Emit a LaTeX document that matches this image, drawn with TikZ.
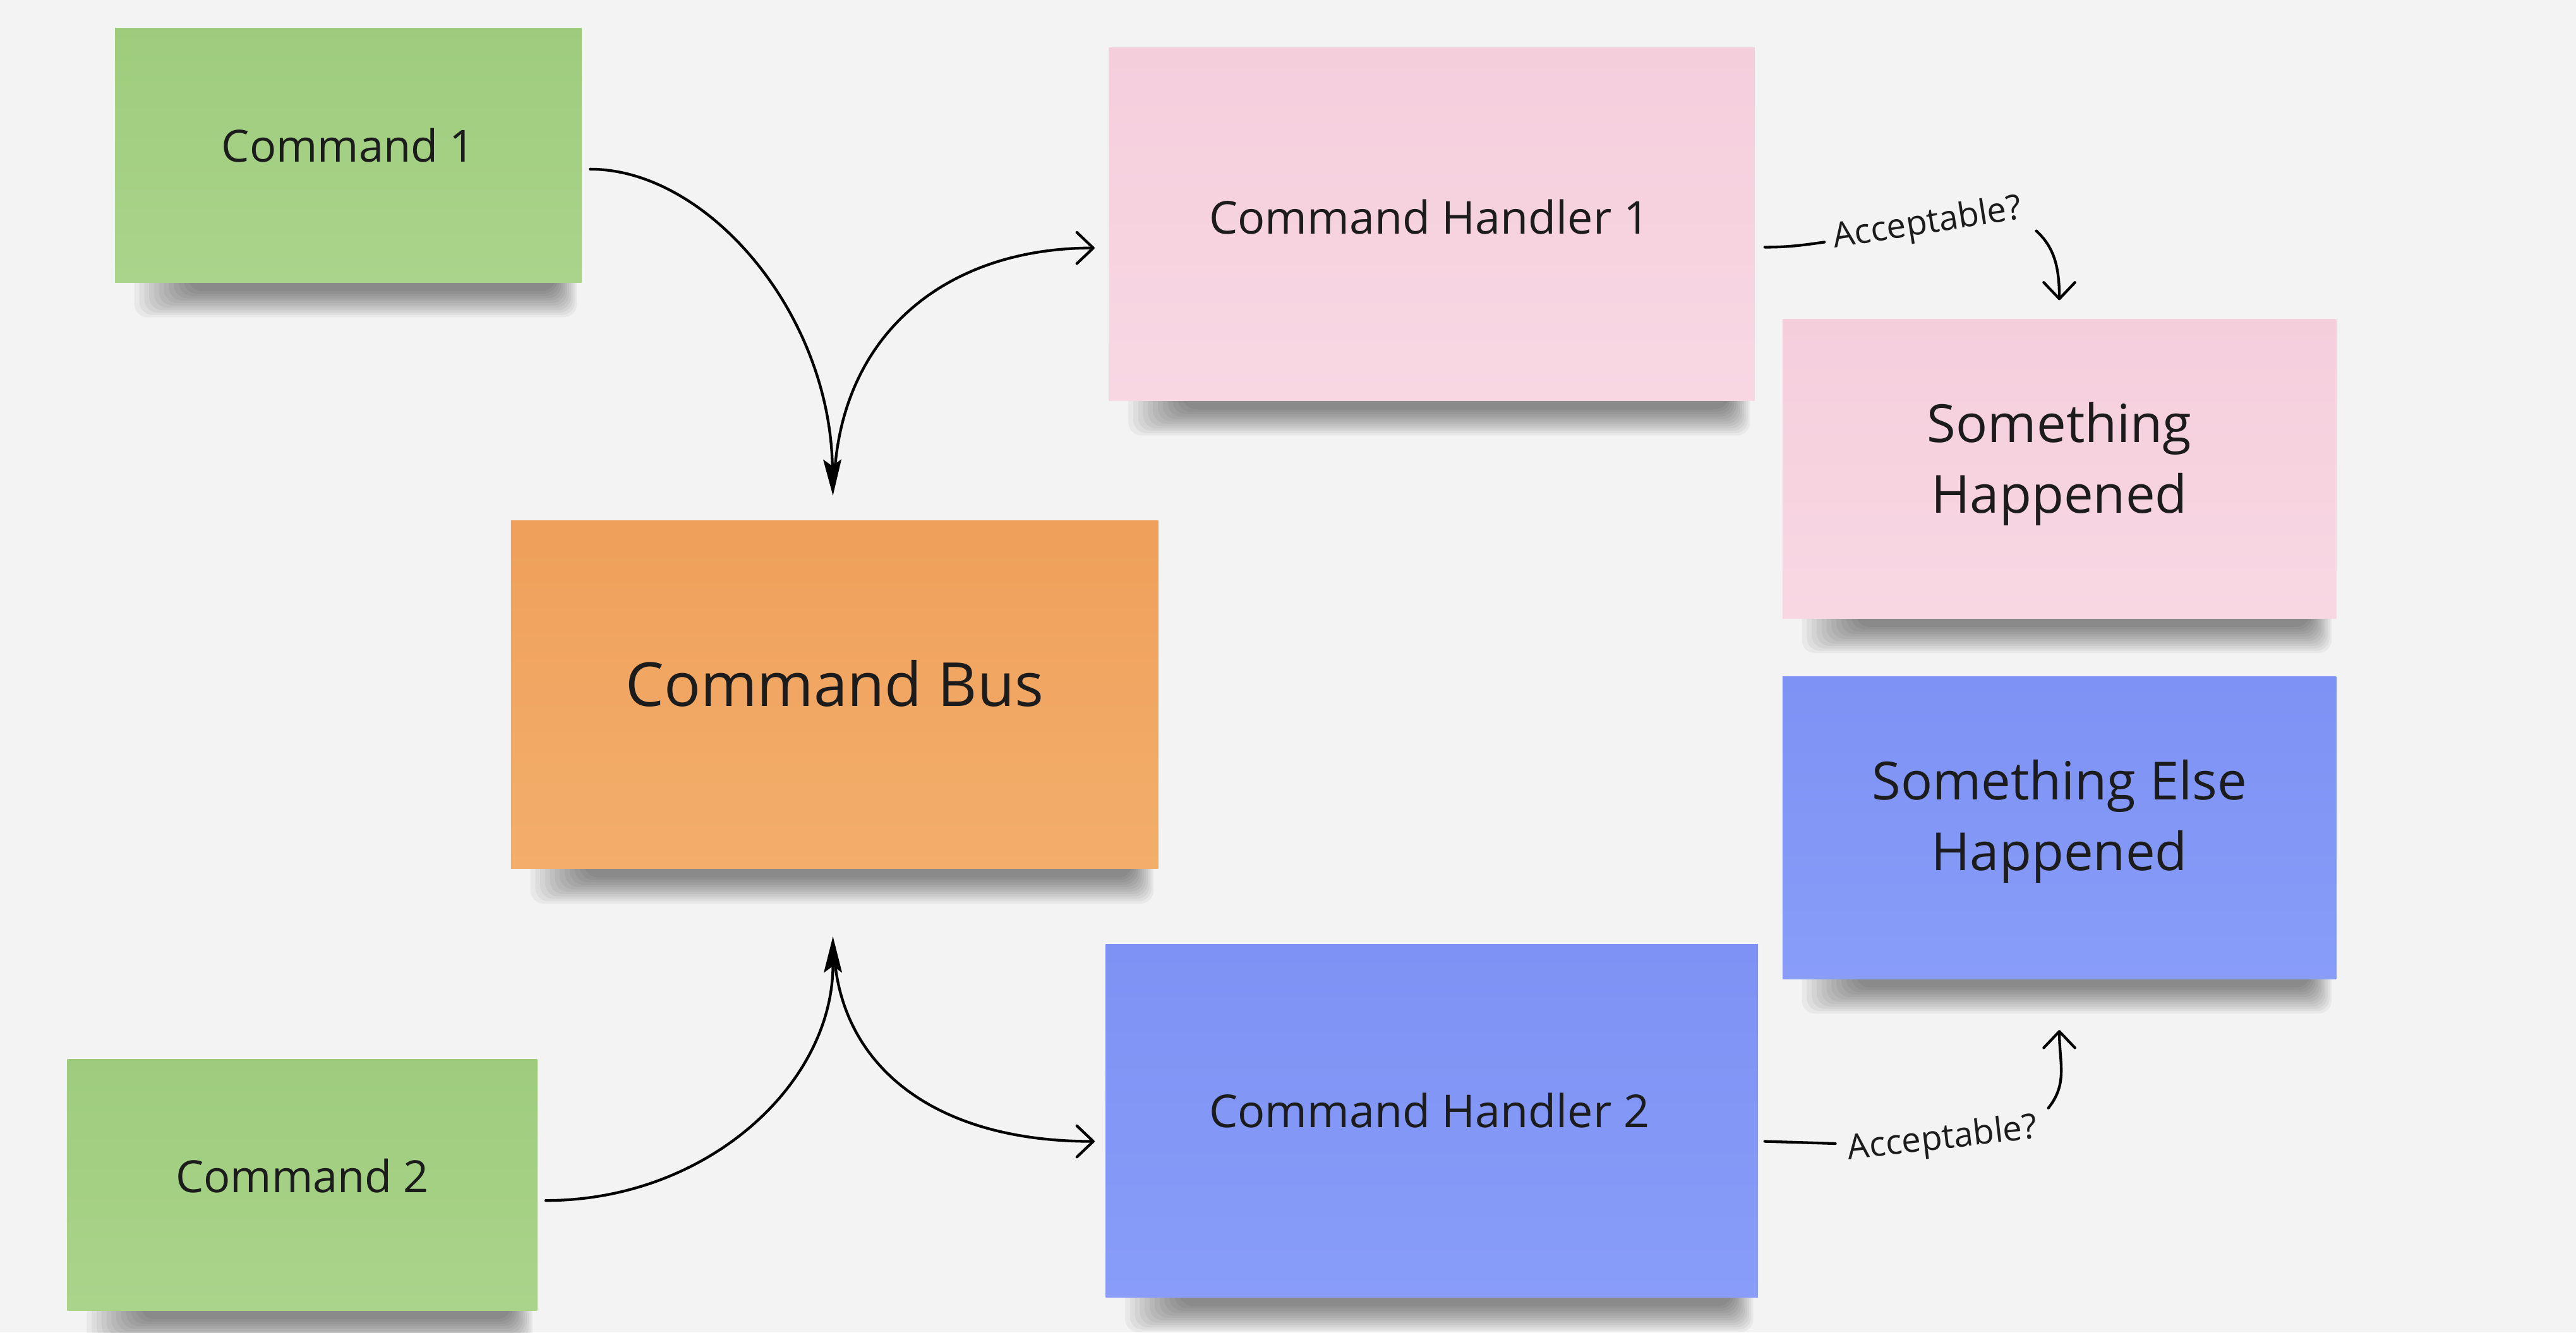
\documentclass[tikz,border=0pt]{standalone}
\usepackage{fontspec}
\setmainfont{Open Sans}
\usetikzlibrary{arrows.meta,calc}
\definecolor{bgc}{HTML}{F3F3F3}
\definecolor{ink}{HTML}{1C1C1C}
\definecolor{greenT}{HTML}{9ECC7C}
\definecolor{greenB}{HTML}{AAD48B}
\definecolor{orangeT}{HTML}{EFA05A}
\definecolor{orangeB}{HTML}{F3AE6C}
\definecolor{pinkT}{HTML}{F5CEDC}
\definecolor{pinkB}{HTML}{F8D7E3}
\definecolor{blueT}{HTML}{7D92F4}
\definecolor{blueB}{HTML}{889CF8}
\pgfdeclarelayer{back}
\pgfdeclarelayer{shade}
\pgfsetlayers{back,shade,main}
\newcommand\noteshadow[1]{%
  \foreach \k in {0,...,11}{%
    \fill[black,opacity=0.042,rounded corners=8pt]
      ($(#1.south west)+(12+3*\k,-10)$) rectangle ($(#1.south east)+(-3-1.2*\k,21-1.45*\k)$);
  }%
}
\begin{document}
\begin{tikzpicture}[x=1pt,y=-1pt,
  note/.style={rectangle,inner sep=0pt,draw=none},
  greennote/.style={note,top color=greenT,bottom color=greenB},
  orangenote/.style={note,top color=orangeT,bottom color=orangeB},
  pinknote/.style={note,top color=pinkT,bottom color=pinkB},
  bluenote/.style={note,top color=blueT,bottom color=blueB},
  ntext/.style={text=ink,align=center,inner sep=0pt},
  smalltext/.style={ntext,font=\fontsize{27}{32}\selectfont},
  handtext/.style={ntext,font=\fontsize{27.6}{32}\selectfont},
  bigtext/.style={ntext,font=\fontsize{37}{44}\selectfont},
  evtext/.style={ntext,font=\fontsize{32}{43}\selectfont},
  acctext/.style={text=ink,inner sep=2pt,font=\fontsize{21}{24}\selectfont,anchor=base},
  conn/.style={line width=1.65pt,draw=black,line cap=round},
  opentip/.style={-{Straight Barb[length=10pt,width=19pt,line cap=round,line join=round]}},
  solidtip/.style={-{Stealth[length=22pt,width=11pt,inset=4pt]}},
]
\useasboundingbox (0,0) rectangle (1568,811.3);
\begin{pgfonlayer}{back}
\fill[bgc] (0,0) rectangle (1568,811.3);
\end{pgfonlayer}

% notes
\node[greennote,minimum width=284pt,minimum height=155pt] (cmd1) at (212,94.5) {};
\node[greennote,minimum width=286pt,minimum height=153pt] (cmd2) at (184,721.5) {};
\node[orangenote,minimum width=394pt,minimum height=212pt] (bus) at (508,423) {};
\node[pinknote,minimum width=393pt,minimum height=215pt] (h1) at (871.5,136.5) {};
\node[bluenote,minimum width=397pt,minimum height=215pt] (h2) at (871.5,682.5) {};
\node[pinknote,minimum width=337pt,minimum height=182pt] (sh) at (1253.5,285.5) {};
\node[bluenote,minimum width=337pt,minimum height=184pt] (seh) at (1253.5,504) {};

\begin{pgfonlayer}{shade}
\noteshadow{cmd1}
\noteshadow{cmd2}
\noteshadow{bus}
\noteshadow{h1}
\noteshadow{h2}
\noteshadow{sh}
\noteshadow{seh}
\end{pgfonlayer}

% texts
\node[smalltext] (t1) at ($(cmd1.center)+(0,-6)$) {Command 1};
\node[smalltext] (t2) at ($(cmd2.center)+(0,-5.5)$) {Command 2};
\node[bigtext] (tb) at ($(bus.center)+(0,-7)$) {Command Bus};
\node[handtext] (th1) at ($(h1.center)+(-1.5,-4.5)$) {Command Handler 1};
\node[handtext] (th2) at ($(h2.center)+(-1.5,-6.5)$) {Command Handler 2};
\node[evtext] (tsh) at ($(sh.center)+(0,-3)$) {Something\\Happened};
\node[evtext] (tseh) at ($(seh.center)+(0,-3.8)$) {Something Else\\Happened};

% connector end points
\coordinate (c1o) at ($(cmd1.east)+(5,8.5)$);
\coordinate (bustop) at ($(bus.north)+(-1,-15)$);
\coordinate (bustopout) at ($(bus.north)+(0,-29)$);
\coordinate (h1i) at ($(h1.west)+(-8.5,14.5)$);
\coordinate (c2o) at ($(cmd2.east)+(5,9.5)$);
\coordinate (busbot) at ($(bus.south)+(-1,41)$);
\coordinate (busbotout) at ($(bus.south)+(0,55)$);
\coordinate (h2i) at ($(h2.west)+(-6.5,12.5)$);

\draw[conn,solidtip] (c1o) .. controls ($(c1o)+(71,0)$) and ($(bustop)+(-2,-112)$) .. (bustop);
\draw[conn,opentip] (bustopout) .. controls ($(bustopout)+(6,-88)$) and ($(h1i)+(-87,0)$) .. (h1i);
\draw[conn,solidtip] (c2o) .. controls ($(c2o)+(98,0)$) and ($(busbot)+(0,90)$) .. (busbot);
\draw[conn,opentip] (busbotout) .. controls ($(busbotout)+(6,66)$) and ($(h2i)+(-97,0)$) .. (h2i);

% acceptable labels
\node[acctext,rotate=9] (acc1) at (1174,142) {Acceptable?};
\node[acctext,rotate=6.5] (acc2) at (1183,699.5) {Acceptable?};

\coordinate (h1o) at ($(h1.east)+(6,14)$);
\coordinate (a1l) at ($(acc1.base west)+(-4,-4)$);
\coordinate (a1r) at ($(acc1.base east)+(6,8)$);
\coordinate (shtop) at ($(sh.north)+(0,-11.5)$);
\draw[conn] (h1o) .. controls ($(h1o)+(14,0)$) and ($(a1l)+(-14,2)$) .. (a1l);
\draw[conn,opentip] (a1r) .. controls ($(a1r)+(11,10)$) and ($(shtop)+(0,-20)$) .. (shtop);

\coordinate (h2o) at ($(h2.east)+(4,12.5)$);
\coordinate (a2l) at ($(acc2.base west)+(-6,-10)$);
\coordinate (a2r) at ($(acc2.base east)+(4,-18)$);
\coordinate (sehbot) at ($(seh.south)+(0,31)$);
\draw[conn] (h2o) -- (a2l);
\draw[conn,opentip] (a2r) .. controls ($(a2r)+(12,-15)$) and ($(sehbot)+(0,20)$) .. (sehbot);
\end{tikzpicture}
\end{document}
